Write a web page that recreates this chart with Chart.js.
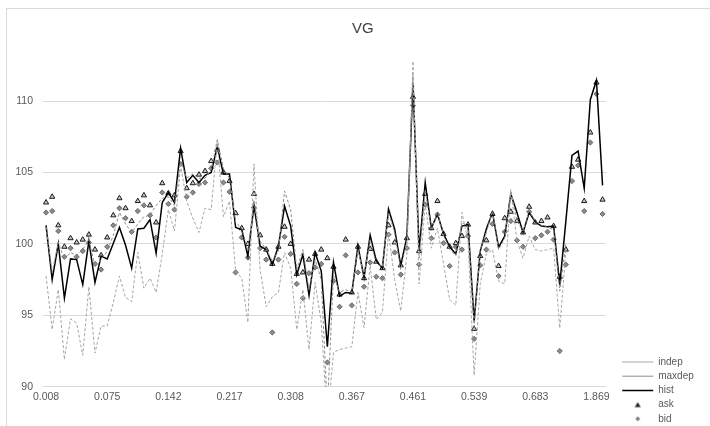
<!DOCTYPE html>
<html>
<head>
<meta charset="utf-8">
<script src="https://cdn.jsdelivr.net/npm/chart.js@4"></script>
<style>
  html, body { margin: 0; padding: 0; background: #fff; }
</style>
</head>
<body>
<canvas id="myChart" width="710" height="426"></canvas>
<script>
// VG: model prices vs historical, with ask / bid quotes

const tickLabels = ["0.008", "0.075", "0.142", "0.217", "0.308", "0.367", "0.461", "0.539", "0.683", "1.869"];

const indep = [
  97.75, 94.0, 96.8, 91.9, 94.75, 94.45, 92.2, 97.0, 92.35, 94.25,
  94.25, 95.9, 97.75, 96.25, 95.95, 99.4, 96.9, 97.6, 96.6, 99.3,
  102.4, 100.9, 105.5, 103.0, 101.8, 100.8, 102.5, 102.4, 107.2, 101.9,
  103.0, 98.1, 97.6, 94.5, 105.6, 98.2, 95.6, 96.3, 96.6, 99.4,
  98.3, 94.0, 96.8, 92.6, 97.3, 94.5, 87.5, 92.4, 92.6, 92.7,
  92.8, 96.6, 94.15, 98.5, 94.7, 95.2, 100.8, 97.5, 95.3, 99.2,
  112.8, 97.2, 102.8, 99.7, 101.1, 98.6, 96.1, 95.7, 102.2, 100.2,
  90.8, 97.2, 99.3, 99.6, 97.4, 97.2, 103.8, 100.2, 99.0, 100.55,
  99.6, 99.5, 99.6, 99.7, 94.1, 99.5, null, null, null, null,
  null, null
];

const maxdep = [
  101.2, 98.0, 100.1, 98.9, 99.4, 99.2, 99.6, 100.3, 98.4, 98.9,
  99.5, 100.6, 102.2, 101.4, 100.8, 101.4, 101.9, 102.0, 102.7, 103.2,
  103.3, 102.7, 105.8, 104.6, 104.9, 104.6, 104.6, 105.2, 107.3, 105.3,
  104.6, 101.5, 101.1, 99.5, 103.0, 100.2, 99.6, 98.8, 99.5, 103.7,
  102.4, 98.2, 99.6, 96.8, 98.9, 97.5, 88.5, 97.8, 96.6, 96.8,
  96.6, 99.6, 97.8, 100.3, 98.6, 98.4, 102.2, 100.8, 98.2, 100.2,
  111.8, 99.0, 103.8, 101.0, 102.2, 100.6, 99.6, 99.2, 101.5, 101.2,
  94.2, 99.6, 100.8, 102.3, 99.6, 100.4, 103.7, 101.6, 100.9, 102.3,
  101.6, 101.3, 101.15, 101.0, 96.7, 100.0, null, null, null, null,
  null, null
];

const hist = [
  101.3, 97.5, 100.0, 96.2, 98.95, 98.9, 97.15, 100.2, 97.3, 99.15,
  98.95, 100.05, 101.15, 99.9, 98.3, 101.05, 101.1, 101.7, 99.35, 102.9,
  103.6, 102.9, 106.7, 104.3, 104.8, 104.3, 104.8, 105.0, 106.8, 104.9,
  104.9, 101.15, 101.0, 99.15, 102.7, 99.85, 99.6, 98.55, 99.85, 102.65,
  101.25, 97.85, 99.25, 96.4, 99.4, 98.1, 92.8, 98.7, 96.35, 96.6,
  96.55, 99.85, 97.65, 100.6, 98.8, 98.3, 102.45, 101.05, 98.5, 100.45,
  111.3, 99.5, 104.3, 101.1, 102.1, 100.7, 99.8, 99.3, 101.25, 101.35,
  94.6, 99.5, 101.05, 102.2, 99.75, 100.55, 103.5, 102.2, 100.8, 102.2,
  101.55, 101.25, 101.2, 101.25, 97.15, 101.6, 106.2, 106.5, 103.9, 110.1,
  111.45, 104.1
];

const ask = [
  102.9, 103.3, 101.3, 99.8, 100.4, 100.1, 100.3, 100.65, 99.6, 99.2,
  100.45, 102.0, 103.2, 102.5, 101.6, 103.0, 103.4, 102.7, 101.5, 104.25,
  103.55, 103.4, 106.5, 103.9, 104.25, 104.85, 105.1, 105.8, 106.6, 105.0,
  104.4, 102.15, 101.1, 100.0, 103.5, 100.6, 99.6, 98.6, 99.8, 101.2,
  100.0, 97.9, 98.0, 98.9, 99.3, 99.6, 99.0, 98.4, 96.45, 100.3,
  96.6, 99.8, 97.6, 99.65, 98.75, 98.3, 101.3, 100.1, 98.5, 100.4,
  110.3, 99.5, 103.5, 101.1, 103.0, 100.7, 99.8, 100.05, 100.55, 101.35,
  94.05, 99.15, 100.25, 102.1, 98.45, 101.8, 102.25, 101.6, 100.8, 102.6,
  101.5, 101.6, 101.85, 101.25, 97.7, 99.6, 105.4, 105.9, 103.0, 107.8,
  111.3, 103.1
];

const bid = [
  102.2, 102.3, 100.9, 99.1, 99.7, 99.1, 99.5, 100.1, 98.6, 98.2,
  99.8, 101.3, 102.5, 101.8, 100.85, 102.3, 102.7, 102.0, 100.45, 103.6,
  102.8, 102.4, 105.6, 103.3, 103.6, 104.2, 104.3, 105.3, 105.7, 104.3,
  103.65, 98.0, 100.45, 99.05, 102.55, 99.7, 98.9, 93.8, 98.9, 100.5,
  99.3, 97.2, 96.2, 97.95, 98.35, 98.6, 91.7, 97.4, 95.6, 99.2,
  95.7, 98.0, 97.0, 98.7, 97.7, 97.6, 100.65, 99.4, 97.85, 99.7,
  109.7, 98.55, 102.75, 100.4, 102.05, 100.05, 98.45, 99.8, 99.6, 100.55,
  93.35, 98.5, 99.6, 101.4, 97.75, 100.85, 101.6, 100.25, 99.8, 102.25,
  100.4, 100.6, 100.85, 100.3, 92.5, 98.55, 104.4, 105.5, 102.3, 107.1,
  110.5, 102.1
];

const toPoints = (arr) => arr.map((y, i) => ({ x: i, y: y }));

const fontFamily = "'Liberation Sans', Arial, sans-serif";

// small legend markers (point styles get stretched by pointStyleWidth)
function markerCanvas(draw) {
  const c = document.createElement("canvas");
  c.width = 8;
  c.height = 8;
  draw(c.getContext("2d"));
  return c;
}
const legendMarkers = {
  ask: markerCanvas((g) => {
    g.fillStyle = "#262626";
    g.beginPath();
    g.moveTo(4, 1.5);
    g.lineTo(7, 6.5);
    g.lineTo(1, 6.5);
    g.closePath();
    g.fill();
  }),
  bid: markerCanvas((g) => {
    g.fillStyle = "#808080";
    g.beginPath();
    g.moveTo(4, 1.5);
    g.lineTo(6.5, 4);
    g.lineTo(4, 6.5);
    g.lineTo(1.5, 4);
    g.closePath();
    g.fill();
  }),
};

// thin grey frame like the spreadsheet chart area
const chartBorder = {
  id: "chartBorder",
  beforeDraw(chart) {
    const c = chart.ctx;
    c.save();
    c.strokeStyle = "#d9d9d9";
    c.lineWidth = 1;
    c.strokeRect(6.5, 8.5, 720, 430);
    c.restore();
  },
};

// title sits centred over the whole chart incl. legend in the original
const titleShift = {
  id: "titleShift",
  afterLayout(chart) {
    if (chart.titleBlock) {
      chart.titleBlock.left += 6;
      chart.titleBlock.right += 6;
    }
  },
};

const ctx = document.getElementById("myChart");

new Chart(ctx, {
  type: "line",
  data: {
    datasets: [
      {
        label: "indep",
        data: toPoints(indep),
        borderColor: "#a6a6a6",
        borderWidth: 1,
        borderDash: [3, 2],
        pointRadius: 0,
      },
      {
        label: "maxdep",
        data: toPoints(maxdep),
        borderColor: "#8c8c8c",
        borderWidth: 1,
        borderDash: [3, 2],
        pointRadius: 0,
      },
      {
        label: "hist",
        data: toPoints(hist),
        borderColor: "#000000",
        borderWidth: 1.5,
        pointRadius: 0,
      },
      {
        label: "ask",
        data: toPoints(ask),
        showLine: false,
        pointStyle: "triangle",
        pointRadius: 3,
        backgroundColor: "#c8c8c8",
        borderColor: "#1a1a1a",
        borderWidth: 1,
      },
      {
        label: "bid",
        data: toPoints(bid),
        showLine: false,
        pointStyle: "rectRot",
        pointRadius: 2.6,
        backgroundColor: "#8a8a8a",
        borderColor: "#6a6a6a",
        borderWidth: 1,
      },
    ],
  },
  options: {
    responsive: false,
    animation: false,
    layout: { padding: { left: 10, top: 12, right: 6.2, bottom: -2 } },
    scales: {
      x: {
        type: "linear",
        min: -0.5,
        max: 91.6,
        grid: { display: false, drawTicks: false },
        border: { display: false },
        ticks: {
          stepSize: 10,
          includeBounds: false,
          autoSkip: false,
          maxRotation: 0,
          padding: 4,
          color: "#595959",
          font: { family: fontFamily, size: 10.5 },
          callback: (v) => tickLabels[v / 10] ?? "",
        },
        afterFit: (s) => { s.height = 41.3; },
      },
      y: {
        min: 90,
        max: 114,
        grid: { color: "#d9d9d9", drawTicks: false },
        border: { display: false },
        ticks: {
          stepSize: 5,
          includeBounds: false,
          padding: 10,
          color: "#595959",
          font: { family: fontFamily, size: 10.5 },
        },
        afterFit: (s) => { s.width = 33; },
      },
      // empty axis, only keeps a gap between plot and legend
      gap: {
        type: "linear",
        position: "right",
        grid: { display: false, drawTicks: false },
        border: { display: false },
        ticks: { display: false },
        afterFit: (s) => { s.width = 11.8; },
      },
    },
    plugins: {
      title: {
        display: true,
        text: "VG",
        color: "#404040",
        font: { family: fontFamily, size: 15, weight: "normal" },
        padding: { top: 8, bottom: 6 },
      },
      legend: {
        position: "right",
        align: "end",
        labels: {
          usePointStyle: true,
          pointStyleWidth: 31,
          boxHeight: 5,
          padding: 4.2,
          color: "#595959",
          font: { family: fontFamily, size: 10 },
          generateLabels: (chart) => {
            const items = Chart.defaults.plugins.legend.labels.generateLabels(chart);
            items.forEach((it) => {
              const ds = chart.data.datasets[it.datasetIndex];
              if (ds.showLine !== false) it.pointStyle = "line";
              else it.pointStyle = legendMarkers[ds.label];
            });
            return items;
          },
        },
      },
      tooltip: { enabled: false },
    },
  },
  plugins: [chartBorder, titleShift],
});
</script>
</body>
</html>
